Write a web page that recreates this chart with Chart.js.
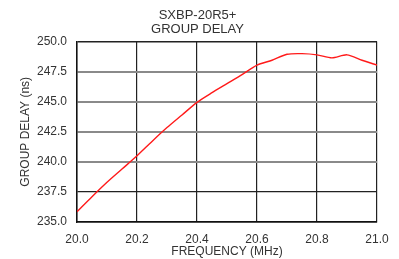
<!DOCTYPE html>
<html>
<head>
<meta charset="utf-8">
<script src="https://cdn.jsdelivr.net/npm/chart.js@4"></script>
<style>
html,body{margin:0;padding:0;background:#fff;}
#wrap{width:399px;height:259px;}
</style>
</head>
<body>
<div id="wrap"><canvas id="c" width="399" height="259"></canvas></div>
<script>
const titleLines = ["SXBP-20R5+", "GROUP DELAY"];
const xTitle = "FREQUENCY (MHz)";
const yTitle = "GROUP DELAY (ns)";
const frequency = [20.00,20.05,20.10,20.15,20.20,20.25,20.30,20.35,20.40,20.45,20.50,20.55,20.60,20.65,20.70,20.75,20.80,20.85,20.90,20.95,21.00];
const groupDelay = [235.85,237.1,238.3,239.4,240.5,241.7,242.85,243.9,244.95,245.75,246.5,247.25,248.05,248.45,248.95,249.0,248.9,248.65,248.9,248.45,248.05];
const xRange = [20.0, 21.0, 0.2];
const yRange = [235.0, 250.0, 2.5];

const pts = frequency.map((f,i)=>({x:f,y:groupDelay[i]}));
const FONT = "'Liberation Sans', Arial, Helvetica, sans-serif";
const TXT = '#333';

new Chart(document.getElementById('c'), {
  type: 'line',
  data: { datasets: [{ data: pts, borderColor: '#ff1a1a', borderWidth: 1.4, pointRadius: 0, tension: 0.25, fill: false }] },
  options: {
    responsive: false, animation: false, devicePixelRatio: 1,
    layout: { padding: { left: 18, right: 22, top: 0, bottom: 0 } },
    plugins: {
      legend: { display: false }, tooltip: { enabled: false },
      title: { display: true, text: titleLines, color: TXT, font: { family: FONT, size: 13, weight: 'normal', lineHeight: 1.1 }, padding: { top: 8, bottom: 5 } }
    },
    scales: {
      x: {
        type: 'linear', min: xRange[0], max: xRange[1],
        ticks: { stepSize: xRange[2], color: TXT, font: { family: FONT, size: 12 }, padding: 10, callback: v => v.toFixed(1), maxRotation: 0 },
        grid: { color: '#222', lineWidth: 1.2, drawTicks: false },
        border: { color: '#111', width: 1.5 },
        title: { display: true, text: xTitle, color: TXT, font: { family: FONT, size: 12 }, padding: { top: 0, bottom: 0 } },
        afterFit: s => { s.height = 37; }
      },
      y: {
        type: 'linear', min: yRange[0], max: yRange[1],
        ticks: { stepSize: yRange[2], color: TXT, font: { family: FONT, size: 12 }, padding: 10, callback: v => v.toFixed(1) },
        grid: { drawTicks: false,
          color: c => (c.tick && (c.tick.value === yRange[1] || c.tick.value === 237.5)) ? '#222' : '#8a8a8a',
          lineWidth: c => (c.tick && c.tick.value === yRange[1]) ? 1.5 : (c.tick && c.tick.value === 237.5 ? 1.2 : 2) },
        border: { color: '#111', width: 1.5 },
        title: { display: true, text: yTitle, color: TXT, font: { family: FONT, size: 12 }, padding: { top: 0, bottom: 0 } },
        afterFit: s => { s.width = 59; }
      }
    }
  }
});
</script>
</body>
</html>
